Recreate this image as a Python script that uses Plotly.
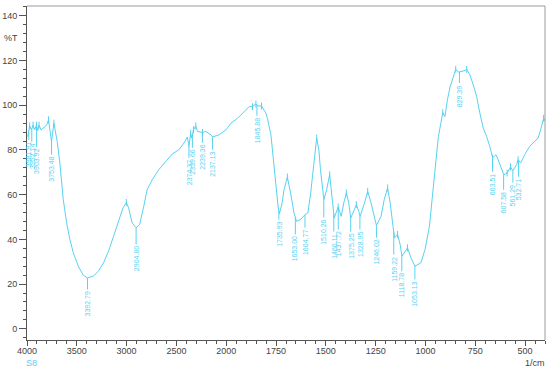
import numpy as np
import plotly.graph_objects as go

# ---------------- data ----------------
wavenumber = [3993, 3973, 3956, 3939, 3922, 3905, 3892, 3879, 3859, 3838, 3804, 3784, 3771, 3754,
              3730, 3720, 3697, 3670, 3650, 3636, 3602, 3569, 3535, 3485, 3434, 3393, 3333, 3283,
              3232, 3182, 3131, 3081, 3036, 3003, 2980, 2945, 2905, 2869, 2845, 2828, 2794, 2743,
              2677, 2609, 2542, 2475, 2424, 2390, 2374, 2357, 2346, 2329, 2306, 2289, 2238, 2205,
              2154, 2137, 2070, 2003, 1976, 1943, 1910, 1885, 1868, 1851, 1840, 1823, 1801, 1793,
              1776, 1768, 1752, 1740, 1733, 1720, 1710, 1693, 1677, 1660, 1647, 1627, 1604, 1590,
              1576, 1563, 1552, 1546, 1535, 1527, 1510, 1496, 1481, 1468, 1458, 1438, 1423, 1410,
              1397, 1385, 1375, 1357, 1347, 1335, 1328, 1306, 1290, 1273, 1257, 1246, 1223, 1207,
              1190, 1177, 1163, 1155, 1140, 1127, 1118, 1090, 1073, 1053, 1023, 1002, 980, 968,
              960, 947, 935, 923, 913, 902, 890, 876, 860, 848, 835, 829, 807, 793, 777, 760, 743,
              727, 710, 693, 677, 663, 646, 635, 618, 607, 590, 573, 561, 543, 535, 522, 502, 477,
              452, 435, 422, 407, 400]
transmittance = [86.0, 90.8, 89.0, 91.1, 89.0, 91.1, 88.7, 91.1, 89.0, 89.9, 91.0, 93.5, 89.9, 83.8,
                 92.0, 89.5, 83.8, 74.2, 66.0, 57.8, 47.4, 39.9, 34.0, 28.0, 23.9, 22.8, 23.6, 25.8,
                 29.5, 34.7, 41.4, 48.1, 54.1, 56.5, 54.1, 47.4, 45.2, 46.6, 51.0, 54.8, 62.2, 66.7,
                 71.2, 74.9, 78.2, 80.1, 83.1, 85.8, 81.6, 87.5, 85.3, 89.0, 90.8, 88.3, 87.8, 88.3,
                 86.8, 85.8, 86.8, 89.0, 92.0, 94.2, 97.2, 99.4, 99.4, 100.6, 99.7, 99.7, 96.5, 94.0,
                 87.0, 80.0, 64.0, 55.0, 51.5, 56.0, 62.2, 67.9, 60.8, 51.9, 48.1, 48.9, 51.1, 51.9,
                 60.8, 72.7, 80.1, 85.3, 80.0, 71.2, 57.8, 62.2, 68.9, 57.8, 49.6, 54.5, 50.3, 56.3,
                 60.8, 56.3, 49.6, 53.3, 55.6, 52.6, 50.3, 56.3, 61.5, 56.3, 49.6, 46.2, 50.3, 57.8,
                 63.0, 56.3, 45.9, 40.7, 42.2, 37.7, 32.5, 36.2, 31.8, 28.0, 29.5, 35.5, 45.9, 58.0,
                 63.7, 75.6, 86.0, 92.7, 96.7, 95.0, 102.4, 108.3, 113.1, 116.1, 114.8, 114.9, 115.4,
                 116.1, 113.6, 109.1, 103.9, 96.5, 89.8, 86.0, 81.6, 76.4, 77.9, 75.6, 71.2, 68.9,
                 69.7, 72.4, 70.7, 73.4, 75.6, 74.2, 77.9, 81.6, 83.8, 85.3, 89.0, 94.2, 93.0]

peak_labels = ["3981.91", "3952.14", "3903.92", "3753.48", "3392.79", "2904.80", "2374.37",
               "2339.66", "2239.36", "2137.13", "1845.88", "1735.93", "1653.00", "1604.77",
               "1510.26", "1460.11", "1437.72", "1375.25", "1328.95", "1246.02", "1159.22",
               "1118.78", "1053.13", "829.39", "663.51", "607.58", "561.29", "532.71"]
peak_wn = [float(s) for s in peak_labels]

top_peaks = [3973, 3939, 3905, 3879, 3784, 3730, 3003, 2357, 2329, 2306, 2238, 1868, 1851, 1823,
             1693, 1546, 1481, 1438, 1397, 1347, 1290, 1190, 1140, 1090, 913, 848, 793, 663, 590,
             573, 535, 407]

x_tick_labels = ["4000", "3500", "3000", "2500", "2000", "1750", "1500", "1250", "1000", "750", "500"]
y_tick_values = [0, 20, 40, 60, 80, 100, 120, 140]

# label tops (layout, %T units)
label_top = [84.5, 83.7, 81.4, 77.9, 17.6, 37.7, 76.5, 81.0, 83.2, 80.1, 95.3, 48.9, 42.2, 45.3,
             49.8, 43.5, 44.4, 43.5, 44.4, 40.8, 33.2, 25.7, 22.1, 110.0, 70.3, 62.2, 65.4, 68.0]

# ------------- axis transform (scale doubles below 2000 1/cm) -------------
def u(w):
    w = np.asarray(w, dtype=float)
    return np.where(w > 2000, w + 2000, 2 * w)

CYAN = "#58d2f2"
GRAY = "#555555"
FONT = "Liberation Sans, Arial, sans-serif"

wn = np.array(wavenumber, dtype=float)
tr = np.array(transmittance, dtype=float)

def curve_at(w):
    return np.interp(w, wn[::-1], tr[::-1])

fig = go.Figure()
fig.add_trace(go.Scatter(x=u(wn), y=tr, mode="lines", line=dict(color=CYAN, width=1),
                         hoverinfo="skip", showlegend=False))
fig.add_trace(go.Scatter(x=u(top_peaks), y=curve_at(np.array(top_peaks, float)), mode="markers",
                         marker=dict(symbol="line-ns-open", size=5, color=CYAN,
                                     line=dict(color=CYAN, width=1)),
                         hoverinfo="skip", showlegend=False))

shapes = []
annotations = []
for lab, w, top in zip(peak_labels, peak_wn, label_top):
    xu = float(u(w))
    cy = float(curve_at(w))
    shapes.append(dict(type="line", xref="x", yref="y", x0=xu, x1=xu, y0=cy, y1=top,
                       line=dict(color=CYAN, width=1)))
    annotations.append(dict(x=xu, y=top, xref="x", yref="y", text=lab, textangle=-90,
                            showarrow=False, xanchor="center", yanchor="top",
                            font=dict(family=FONT, size=7, color=CYAN)))

# frame top / right
shapes.append(dict(type="line", xref="paper", yref="paper", x0=0, x1=1, y0=1, y1=1,
                   line=dict(color="#9a9a9a", width=1)))
shapes.append(dict(type="line", xref="paper", yref="paper", x0=1, x1=1, y0=0, y1=1,
                   line=dict(color="#9a9a9a", width=1)))

annotations.append(dict(x=0, y=130, xref="paper", yref="y", text="%T", showarrow=False,
                        xanchor="right", yanchor="middle", xshift=-7,
                        font=dict(family=FONT, size=9, color="#444")))
annotations.append(dict(x=0.008, y=-0.068, xref="paper", yref="paper", text="S8", showarrow=False,
                        xanchor="center", yanchor="middle",
                        font=dict(family=FONT, size=9, color=CYAN)))
annotations.append(dict(x=0.98, y=-0.068, xref="paper", yref="paper", text="1/cm", showarrow=False,
                        xanchor="center", yanchor="middle",
                        font=dict(family=FONT, size=9, color="#444")))

x_tick_vals = [float(u(float(s))) for s in x_tick_labels]

fig.update_layout(
    width=550, height=369,
    margin=dict(l=27, r=5, t=6, b=29, autoexpand=False),
    paper_bgcolor="white", plot_bgcolor="white",
    shapes=shapes, annotations=annotations,
    font=dict(family=FONT, size=9, color="#444"),
    xaxis=dict(range=[6000, 800], tickmode="array", tickvals=x_tick_vals, ticktext=x_tick_labels,
               ticks="outside", ticklen=5, tickcolor=GRAY, showgrid=False, zeroline=False,
               showline=True, linecolor=GRAY, linewidth=1, automargin=False,
               ticklabelstandoff=-3,
               tickfont=dict(family=FONT, size=9, color="#444"),
               minor=dict(tickmode="array", tickvals=list(range(800, 6001, 100)), ticks="outside",
                          ticklen=3, tickcolor=GRAY, showgrid=False)),
    yaxis=dict(range=[-5, 144.4], tickmode="array", tickvals=y_tick_values,
               ticks="outside", ticklen=7, tickcolor=GRAY, showgrid=False, zeroline=False,
               showline=True, linecolor=GRAY, linewidth=1, automargin=False,
               tickfont=dict(family=FONT, size=9, color="#444"),
               minor=dict(tickmode="array", tickvals=list(range(-4, 145, 4)), ticks="outside",
                          ticklen=3, tickcolor=GRAY, showgrid=False)),
)

fig.write_html("out.html", config={"displayModeBar": False},
               post_script="document.body.style.margin='0';document.body.style.overflow='hidden';")
